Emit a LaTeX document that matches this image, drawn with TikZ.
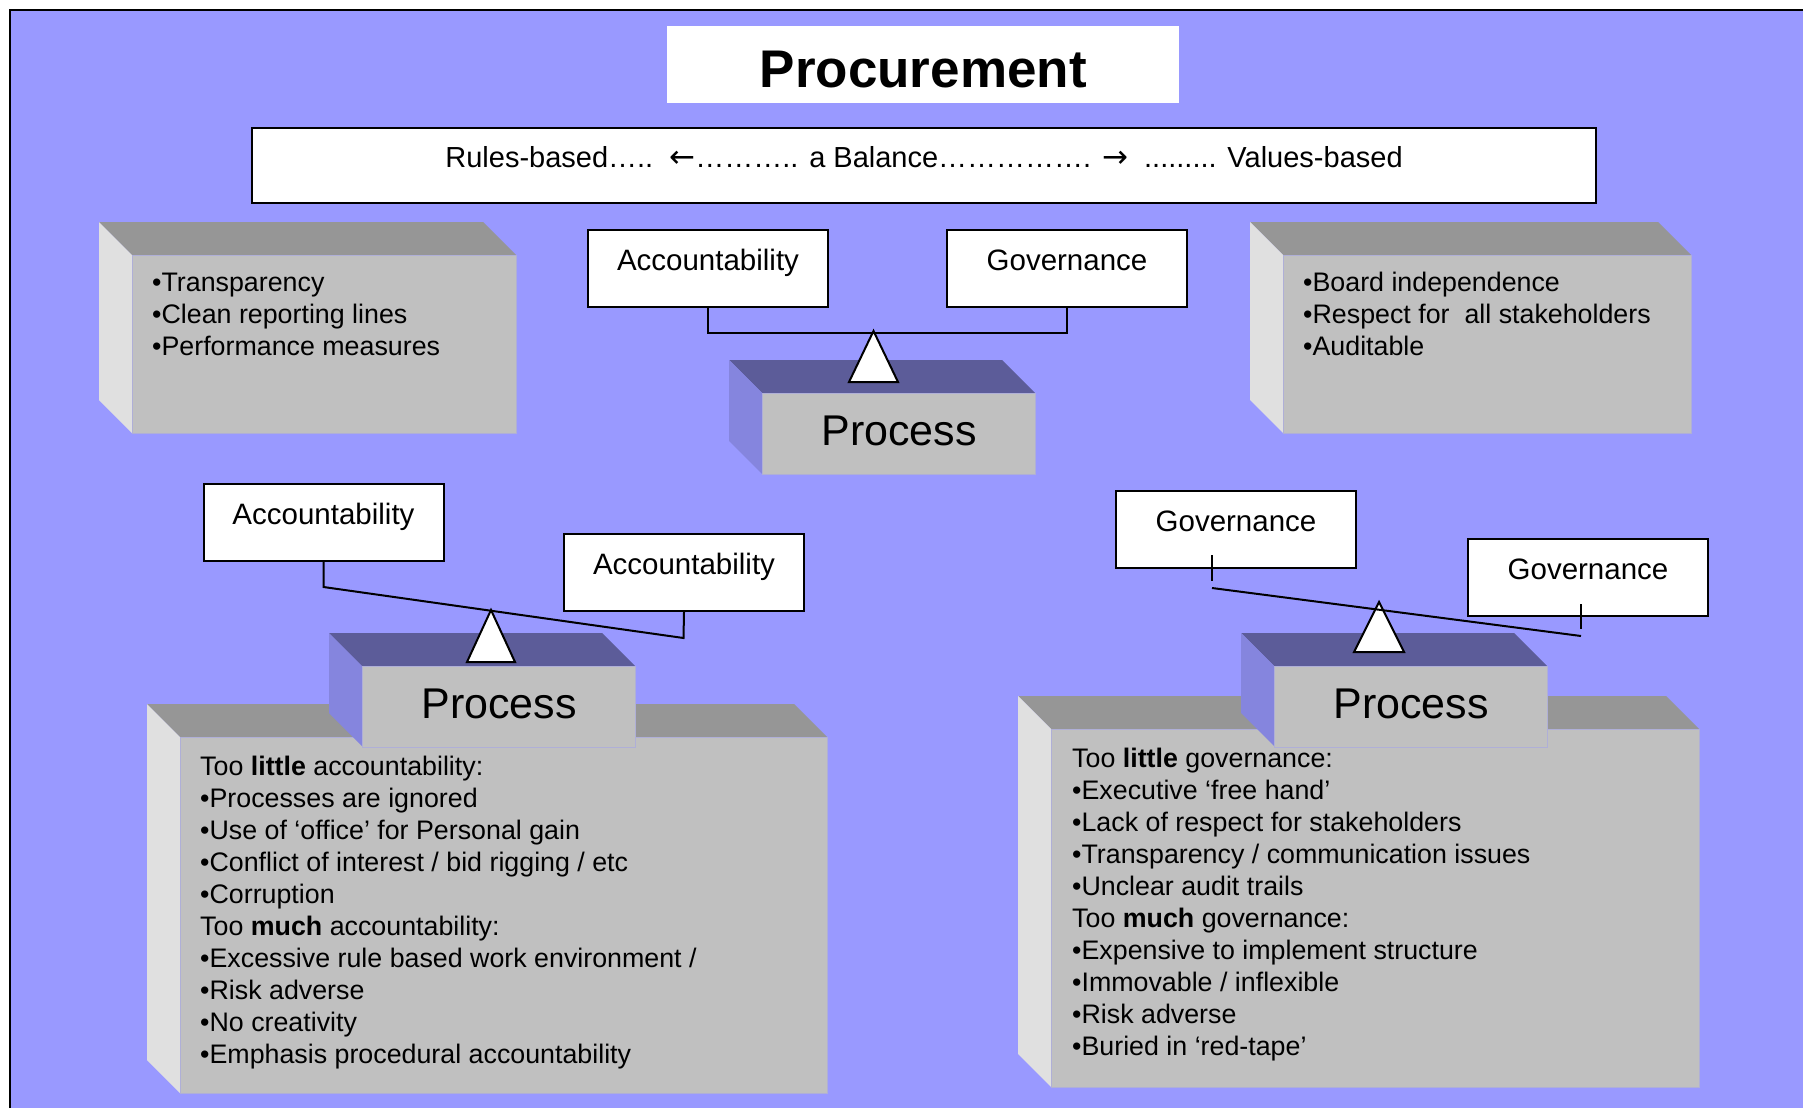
\documentclass[tikz,border=0pt]{standalone}
\usepackage{fontspec}
\setmainfont{Liberation Sans}
\newfontfamily\arrowfont{DejaVu Sans}
\usepackage{tikz}
\definecolor{sky}{RGB}{153,153,255}
\definecolor{silver}{RGB}{192,192,192}
\definecolor{slate}{RGB}{150,150,150}
\definecolor{chalk}{RGB}{224,224,224}
\definecolor{dusk}{RGB}{92,92,153}
\definecolor{iris}{RGB}{133,133,222}
\definecolor{rim}{RGB}{175,175,215}
\tikzset{
  tag/.style={draw, line width=2pt, fill=white, inner sep=0pt, minimum width=240pt,
    text height=40pt, text depth=37pt, anchor=north west, font=\fontsize{29.5}{34}\selectfont},
  face/.style={fill=silver, draw=rim, line width=1.2pt, inner sep=0pt, anchor=north west},
  proc/.style={face, minimum width=273pt, text height=52pt, text depth=29pt,
    font=\fontsize{43}{50}\selectfont},
  body/.style={anchor=north west, align=left, inner sep=0pt, font=\fontsize{26.8}{32}\selectfont},
  beam/.style={line width=2pt},
  pivot/.style={draw, fill=white, line width=2pt}
}
% top and left face of a block whose front face runs from (#1,#2) to (#3,#4)
\newcommand{\slab}[6]{
  \fill[#5] (#1,#2) -- ++(-33,-33) -- (#3-33,#2-33) -- (#3,#2) -- cycle;
  \fill[#6] (#1,#2) -- ++(-33,-33) -- (#1-33,#4-33) -- (#1,#4) -- cycle;
}

\begin{document}
\begin{tikzpicture}[x=1pt,y=-1pt]
\useasboundingbox (0,0) rectangle (1803,1108);
\fill[white] (0,0) rectangle (1803,1108);
\fill[sky] (10,10) rectangle (1803,1108);
\draw[line width=2pt] (10,1108) -- (10,10) -- (1803,10);

\node[fill=white, inner sep=0pt, minimum width=512pt, text height=61pt, text depth=16pt,
  anchor=north west, font=\fontsize{53}{60}\selectfont\bfseries] (title) at (667,26) {Procurement};
\node[tag, minimum width=1344pt, text height=39pt, text depth=36pt, font=\fontsize{29}{34}\selectfont] (range) at (251,127)
  {Rules-based…..\ \ {\arrowfont\fontsize{31}{34}\selectfont ←}……….. a Balance……………. {\arrowfont\fontsize{31}{34}\selectfont →}\ \ ......... Values-based};

\slab{132}{255}{516}{433}{slate}{chalk}
\node[face, minimum width=384pt, minimum height=178pt] (rules) at (132,255) {};
\node[body] at ([shift={(20,18)}]rules.north west)
  {•Transparency\\•Clean reporting lines\\•Performance measures};
\slab{1283}{255}{1691}{433}{slate}{chalk}
\node[face, minimum width=408pt, minimum height=178pt] (values) at (1283,255) {};
\node[body] at ([shift={(20,17)}]values.north west)
  {•Board independence\\•Respect for\ \ all stakeholders\\•Auditable};

% balanced
\slab{762}{393}{1035}{474}{dusk}{iris}
\node[proc] (procT) at (762,393) {Process};
\coordinate (tipT) at (873.5,331);
\draw[pivot] (tipT) -- ++(-24.5,51) -- ++(49,0) -- cycle;
\node[tag] (accT) at (587,229) {Accountability};
\node[tag] (govT) at (946,229) {Governance};
\draw[beam] (accT.south) -- ++(0,25) -| (govT.south);

% accountability side
\slab{180}{737}{827}{1093}{slate}{chalk}
\node[face, minimum width=647pt, minimum height=356pt] (accBox) at (180,737) {};
\node[body] at ([shift={(20,19)}]accBox.north west)
  {Too \textbf{little} accountability:\\•Processes are ignored\\•Use of ‘office’ for Personal gain\\
   •Conflict of interest / bid rigging / etc\\•Corruption\\Too \textbf{much} accountability:\\
   •Excessive rule based work environment /\\•Risk adverse\\•No creativity\\
   •Emphasis procedural accountability};
\slab{362}{666}{635}{746}{dusk}{iris}
\node[proc] (procL) at (362,666) {Process};
\coordinate (tipL) at (491,610);
\draw[pivot] (tipL) -- ++(-24,52) -- ++(48,0) -- cycle;
\node[tag] (accL) at (202.5,483) {Accountability};
\node[tag] (accR) at (563,533) {Accountability};
\draw[beam] (accL.south) -- ++(0,25) -- ++(360,51) -- (accR.south);

% governance side
\slab{1051}{729}{1699}{1087}{slate}{chalk}
\node[face, minimum width=648pt, minimum height=358pt] (govBox) at (1051,729) {};
\node[body] at ([shift={(21,19)}]govBox.north west)
  {Too \textbf{little} governance:\\•Executive ‘free hand’\\•Lack of respect for stakeholders\\
   •Transparency / communication issues\\•Unclear audit trails\\Too \textbf{much} governance:\\
   •Expensive to implement structure\\•Immovable / inflexible\\•Risk adverse\\•Buried in ‘red-tape’};
\slab{1274}{666}{1547}{746}{dusk}{iris}
\node[proc] (procR) at (1274,666) {Process};
\coordinate (tipR) at (1379,602);
\draw[pivot] (tipR) -- ++(-25,50) -- ++(50,0) -- cycle;
\node[tag] (govL) at (1115,490) {Governance};
\node[tag] (govR) at (1467,538) {Governance};
\draw[beam] ([shift={(-24,-14)}]govL.south) -- ++(0,26);
\draw[beam] ([shift={(-24,19)}]govL.south) -- ([shift={(-7,19)}]govR.south);
\draw[beam] ([shift={(-7,-13)}]govR.south) -- ++(0,25);
\end{tikzpicture}
\end{document}
